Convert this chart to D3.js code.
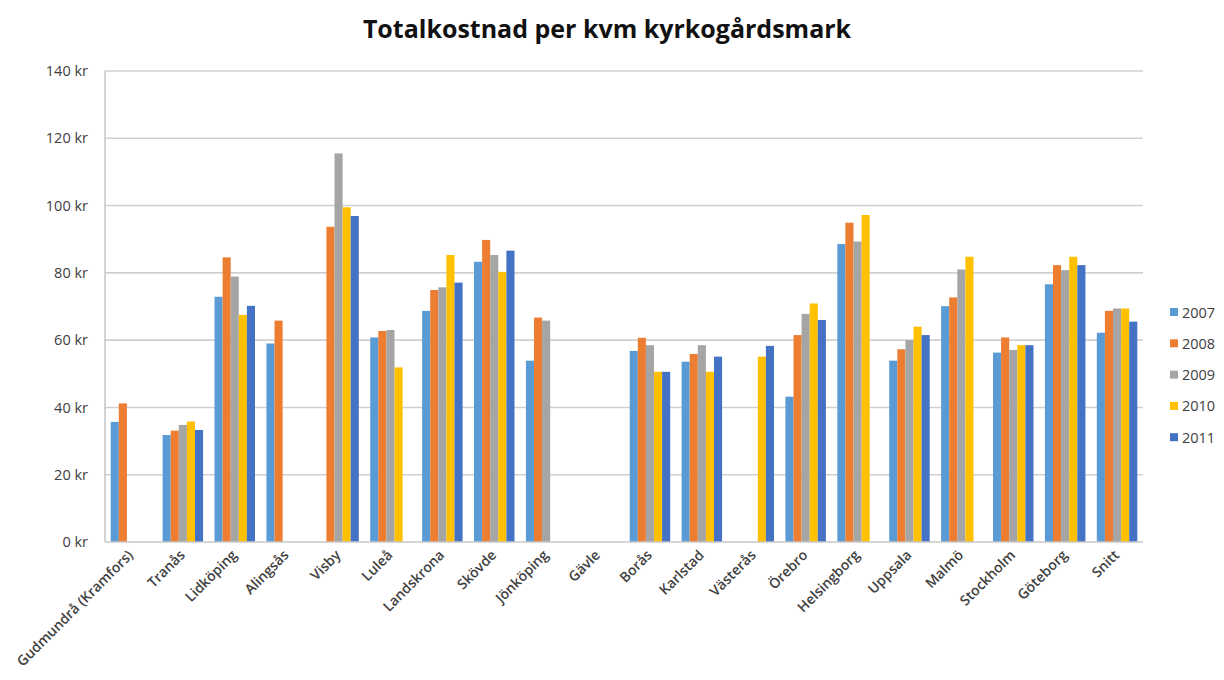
<!DOCTYPE html>
<html>
<head>
<meta charset="utf-8">
<script src="https://cdn.jsdelivr.net/npm/d3@7"></script>
<style>
  html, body { margin: 0; padding: 0; background: #fff; }
  svg { display: block; }
</style>
</head>
<body>
<svg id="chart" width="1224" height="680"></svg>
<script>
const categories = ["Gudmundrå (Kramfors)", "Tranås", "Lidköping", "Alingsås", "Visby", "Luleå",
  "Landskrona", "Skövde", "Jönköping", "Gävle", "Borås", "Karlstad", "Västerås", "Örebro",
  "Helsingborg", "Uppsala", "Malmö", "Stockholm", "Göteborg", "Snitt"];
const years = ["2007", "2008", "2009", "2010", "2011"];
const v2007 = [35.7, 31.8, 72.9, 59.0, null, 60.8, 68.7, 83.3, 53.9, null, 56.8, 53.6, null, 43.2, 88.6, 53.9, 70.1, 56.3, 76.6, 62.2];
const v2008 = [41.2, 33.1, 84.6, 65.8, 93.7, 62.7, 74.9, 89.8, 66.7, null, 60.7, 55.9, null, 61.5, 94.9, 57.3, 72.7, 60.8, 82.3, 68.7];
const v2009 = [null, 34.8, 78.9, null, 115.5, 63.0, 75.7, 85.3, 65.8, null, 58.5, 58.5, null, 67.8, 89.3, 60.0, 81.0, 57.1, 80.8, 69.4];
const v2010 = [null, 35.8, 67.5, null, 99.5, 51.9, 85.3, 80.3, null, null, 50.6, 50.6, 55.1, 70.9, 97.2, 64.0, 84.8, 58.5, 84.8, 69.4];
const v2011 = [null, 33.3, 70.2, null, 96.9, null, 77.1, 86.6, null, null, 50.6, 55.1, 58.3, 66.0, null, 61.5, null, 58.5, 82.3, 65.5];
const seriesValues = [v2007, v2008, v2009, v2010, v2011];
const colors = ["#5B9BD5", "#ED7D31", "#A5A5A5", "#FFC000", "#4472C4"];
const yTicks = [0, 20, 40, 60, 80, 100, 120, 140];

const svg = d3.select("#chart");
const font = "'Open Sans', Lato, sans-serif";
const m = { left: 105, right: 1143, top: 71, bottom: 542 };

const x = d3.scaleBand().domain(categories).range([m.left, m.right]).paddingInner(0.22).paddingOuter(0.11);
const xs = d3.scaleBand().domain(years).range([0, x.bandwidth()]);
const y = d3.scaleLinear().domain([0, 140]).range([m.bottom, m.top]);

// title
svg.append("text")
  .attr("x", 607).attr("y", 38)
  .attr("text-anchor", "middle")
  .attr("font-family", font).attr("font-weight", "bold").attr("font-size", 25)
  .attr("fill", "#111")
  .text("Totalkostnad per kvm kyrkogårdsmark");

// gridlines
svg.append("g").selectAll("line").data(yTicks.filter(d => d > 0)).join("line")
  .attr("x1", m.left).attr("x2", m.right)
  .attr("y1", d => y(d)).attr("y2", d => y(d))
  .attr("stroke", "#d0d0d0").attr("stroke-width", 1.6);

// y axis labels
const yAxis = d3.axisLeft(y).tickValues(yTicks).tickSize(0).tickPadding(17).tickFormat(d => d + " kr");
const yg = svg.append("g").attr("transform", `translate(${m.left},0)`).call(yAxis);
yg.select(".domain").remove();
yg.selectAll("text").attr("font-family", font).attr("font-size", 14.5).attr("fill", "#404040");

// bars
const groups = svg.append("g").selectAll("g").data(categories).join("g")
  .attr("transform", d => `translate(${x(d)},0)`);
groups.selectAll("rect")
  .data((c, i) => years.map((yr, j) => ({ yr, v: seriesValues[j][i], c: colors[j] })).filter(d => d.v != null))
  .join("rect")
  .attr("x", d => xs(d.yr))
  .attr("width", xs.bandwidth())
  .attr("y", d => y(d.v))
  .attr("height", d => y(0) - y(d.v))
  .attr("fill", d => d.c);

// axes lines
svg.append("line").attr("x1", m.left).attr("x2", m.right).attr("y1", m.bottom).attr("y2", m.bottom)
  .attr("stroke", "#c8c8c8").attr("stroke-width", 1.6);
svg.append("line").attr("x1", m.left).attr("x2", m.left).attr("y1", m.top).attr("y2", m.bottom)
  .attr("stroke", "#c8c8c8").attr("stroke-width", 1.6);

// x labels
const xAxis = d3.axisBottom(x).tickSize(0).tickPadding(0);
const xg = svg.append("g").attr("transform", `translate(0,${m.bottom})`).call(xAxis);
xg.select(".domain").remove();
xg.selectAll("text")
  .attr("font-family", font).attr("font-size", 14).attr("font-weight", 600).attr("fill", "#404040")
  .attr("text-anchor", "end")
  .attr("x", 0).attr("y", 0).attr("dy", 0)
  .attr("transform", "translate(3,14) rotate(-45)");

// legend
const lg = svg.append("g").selectAll("g").data(years).join("g")
  .attr("transform", (d, i) => `translate(1170,${312 + i * 31.3})`);
lg.append("rect").attr("x", 0).attr("y", -4).attr("width", 8).attr("height", 8)
  .attr("fill", (d, i) => colors[i]);
lg.append("text").attr("x", 12).attr("y", 5.5)
  .attr("font-family", font).attr("font-size", 14.5).attr("fill", "#404040")
  .text(d => d);
</script>
</body>
</html>
